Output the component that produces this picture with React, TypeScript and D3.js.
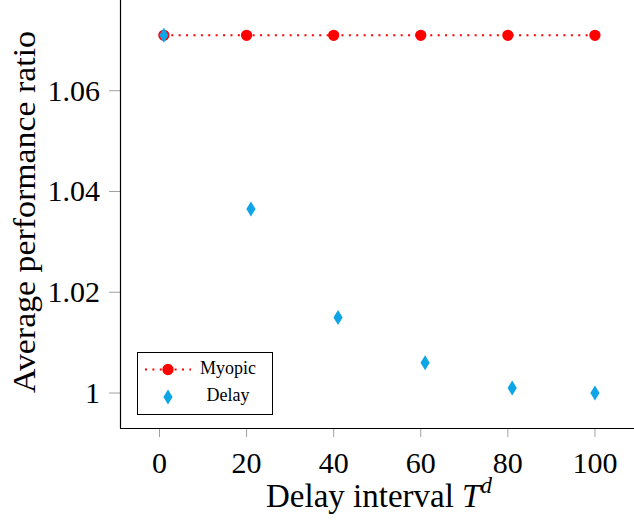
import React, { useEffect, useRef } from 'react';
import * as d3 from 'd3';

const myopicX = [1, 20, 40, 60, 80, 100];
const myopicY = [1.071, 1.071, 1.071, 1.071, 1.071, 1.071];
const delayX = [1, 21, 41, 61, 81, 100];
const delayY = [1.071, 1.0365, 1.015, 1.006, 1.001, 1.0];
const xTicks = [0, 20, 40, 60, 80, 100];
const yTicks = [1, 1.02, 1.04, 1.06];
const yTickLabels = ['1', '1.02', '1.04', '1.06'];
const seriesNames = ['Myopic', 'Delay'];

const RED = '#ff0000';
const CYAN = '#0ea5e6';
const FONT = 'Liberation Serif';

export default function App() {
  const ref = useRef<SVGSVGElement>(null);

  useEffect(() => {
    const svg = d3.select(ref.current);
    svg.selectAll('*').remove();

    const x = d3.scaleLinear().domain([-9.07, 109.2]).range([120, 635]);
    const y = d3.scaleLinear().domain([0.99306, 1.078]).range([428, 0]);

    // tick marks (gray, outside)
    svg.selectAll('xt').data(xTicks).enter().append('line')
      .attr('x1', d => x(d)).attr('x2', d => x(d))
      .attr('y1', 428).attr('y2', 437)
      .attr('stroke', '#a0a0a0').attr('stroke-width', 1);
    svg.selectAll('yt').data(yTicks).enter().append('line')
      .attr('x1', 109).attr('x2', 120)
      .attr('y1', d => y(d)).attr('y2', d => y(d))
      .attr('stroke', '#a0a0a0').attr('stroke-width', 1);

    // axis lines
    svg.append('line').attr('x1', 120.5).attr('x2', 120.5).attr('y1', 0).attr('y2', 428.5)
      .attr('stroke', '#000').attr('stroke-width', 1.2);
    svg.append('line').attr('x1', 120).attr('x2', 634).attr('y1', 428.5).attr('y2', 428.5)
      .attr('stroke', '#000').attr('stroke-width', 1.2);

    // tick labels
    svg.selectAll('xl').data(xTicks).enter().append('text')
      .attr('x', d => x(d)).attr('y', 473)
      .attr('text-anchor', 'middle')
      .attr('font-family', FONT).attr('font-size', 30)
      .text(d => String(d));
    svg.selectAll('yl').data(yTicks).enter().append('text')
      .attr('x', 100).attr('y', d => y(d) + 10)
      .attr('text-anchor', 'end')
      .attr('font-family', FONT).attr('font-size', 30)
      .text((d, i) => yTickLabels[i]);

    // axis titles
    svg.append('text')
      .attr('transform', 'translate(35,212) rotate(-90)')
      .attr('text-anchor', 'middle')
      .attr('font-family', FONT).attr('font-size', 31)
      .attr('textLength', 362).attr('lengthAdjust', 'spacingAndGlyphs')
      .text('Average performance ratio');
    const xt = svg.append('text')
      .attr('x', 379).attr('y', 507)
      .attr('text-anchor', 'middle')
      .attr('font-family', FONT).attr('font-size', 33);
    xt.append('tspan').text('Delay interval ');
    xt.append('tspan').attr('font-style', 'italic').text('T');
    xt.append('tspan').attr('dy', -14).attr('font-size', 23).attr('font-style', 'italic').text('d');

    // Myopic: dotted red line + markers
    const myo = myopicX.map((d, i) => [x(d), y(myopicY[i])] as [number, number]);
    svg.append('path')
      .attr('d', d3.line()(myo))
      .attr('fill', 'none').attr('stroke', RED)
      .attr('stroke-width', 2).attr('stroke-dasharray', '2 5.4');
    const blob = d3.symbol().type(d3.symbolCircle).size(100);
    svg.selectAll('mm').data(myo).enter().append('path')
      .attr('d', blob)
      .attr('transform', d => `translate(${d[0]},${d[1]})`)
      .attr('fill', RED);

    // Delay: cyan diamonds
    const diamond = 'M0,-7.5L4.6,0L0,7.5L-4.6,0Z';
    svg.selectAll('dm').data(delayX).enter().append('path')
      .attr('d', diamond)
      .attr('transform', (d, i) => `translate(${x(d)},${y(delayY[i])})`)
      .attr('fill', CYAN);

    // legend
    const lg = svg.append('g');
    lg.append('rect').attr('x', 137.5).attr('y', 352.5).attr('width', 135).attr('height', 62)
      .attr('fill', '#fff').attr('stroke', '#000').attr('stroke-width', 1);
    lg.append('line').attr('x1', 145).attr('x2', 191).attr('y1', 369.5).attr('y2', 369.5)
      .attr('stroke', RED).attr('stroke-width', 2).attr('stroke-dasharray', '2 5.4');
    lg.append('path').attr('d', blob).attr('transform', 'translate(168,369.5)').attr('fill', RED);
    lg.append('path').attr('d', diamond).attr('transform', 'translate(168,397)').attr('fill', CYAN);
    lg.selectAll('lt').data(seriesNames).enter().append('text')
      .attr('x', 228).attr('y', (d, i) => 374 + i * 27)
      .attr('text-anchor', 'middle')
      .attr('font-family', FONT).attr('font-size', 18)
      .text(d => d);
  }, []);

  return (
    <svg ref={ref} width={634} height={520}
      style={{ position: 'absolute', left: 0, top: 0, background: '#fff' }} />
  );
}
